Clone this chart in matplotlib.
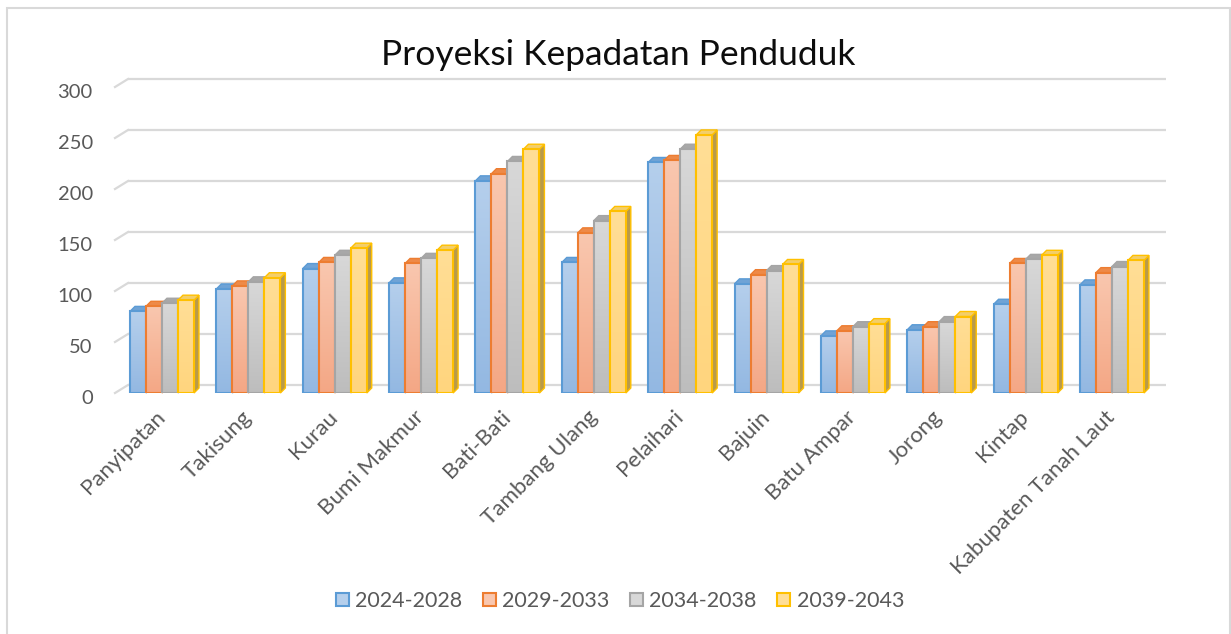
import numpy as np
import matplotlib
matplotlib.use("Agg")
import matplotlib.pyplot as plt
from matplotlib.patches import Polygon, Patch, Rectangle
from matplotlib.colors import LinearSegmentedColormap
from matplotlib.transforms import ScaledTranslation

plt.rcParams['font.family'] = ['Lato', 'DejaVu Sans']

categories = ["Panyipatan", "Takisung", "Kurau", "Bumi Makmur", "Bati-Bati",
              "Tambang Ulang", "Pelaihari", "Bajuin", "Batu Ampar", "Jorong",
              "Kintap", "Kabupaten Tanah Laut"]
series_names = ["2024-2028", "2029-2033", "2034-2038", "2039-2043"]
s2024 = [80, 102, 122, 108, 208, 128, 226, 107, 56, 62, 87, 106]
s2029 = [85, 105, 128, 127, 215, 157, 228, 116, 61, 65, 127, 118]
s2034 = [88, 109, 135, 132, 227, 169, 239, 120, 65, 70, 131, 124]
s2039 = [91, 113, 142, 140, 239, 178, 253, 126, 68, 75, 135, 130]
series = [s2024, s2029, s2034, s2039]
yticks = [0, 50, 100, 150, 200, 250, 300]

edge_cols = ["#5B9BD5", "#ED7D31", "#A5A5A5", "#FFC000"]
grad_top = ["#B5CFEC", "#F9C7AF", "#D8D8D8", "#FFDE96"]
grad_bot = ["#93B8E2", "#F4A785", "#BDBDBD", "#FFD57E"]
side_cols = ["#4A7FB0", "#B8602A", "#8A8A8A", "#B89A4A"]
top_cols = ["#6FA3D6", "#EE8A48", "#A8A8A8", "#F3CE6A"]
text_col = "#595959"
grid_col = "#D9D9D9"

W, H = 1231, 634
fig = plt.figure(figsize=(W / 100, H / 100), dpi=100)
fig.patch.set_facecolor("white")

# front plane of the plot area in pixels
x_left_px, x_right_px = 115, 1153
y_floor_px, px_per_unit = 393, 1.02
ax = fig.add_axes([x_left_px / W, (H - y_floor_px) / H,
                   (x_right_px - x_left_px) / W, 300 * px_per_unit / H])
pitch_px = 86.36
x0_data = -0.5 + (x_left_px - (162 - 0.5 * pitch_px)) / pitch_px
x1_data = x0_data + (x_right_px - x_left_px) / pitch_px
ax.set_xlim(x0_data, x1_data)
ax.set_ylim(0, 300)
for sp in ax.spines.values():
    sp.set_visible(False)
ax.patch.set_alpha(0)

# depth offsets in data units
wall_dx, wall_dy = 13 / pitch_px, 8 / px_per_unit
bar_dx, bar_dy = 5 / pitch_px, 5 / px_per_unit

# back wall gridlines with the slanted side wall segment
for v in yticks:
    ax.plot([x0_data + wall_dx, x1_data + wall_dx], [v + wall_dy, v + wall_dy],
            color=grid_col, lw=1.6, zorder=1, clip_on=False, solid_capstyle="butt")
    ax.plot([x0_data, x0_data + wall_dx], [v, v + wall_dy],
            color=grid_col, lw=1.6, zorder=1, clip_on=False)

bw = 16 / pitch_px
xs = np.arange(len(categories))
grad = np.linspace(1, 0, 128).reshape(-1, 1)
z = 2.0
for si, vals in enumerate(series):
    cmap = LinearSegmentedColormap.from_list(f"g{si}", [grad_bot[si], grad_top[si]])
    offs = (si - 1.5) * bw
    bars = ax.bar(xs + offs, vals, width=bw, facecolor="none",
                  edgecolor=edge_cols[si], linewidth=1.5, zorder=z + si * 0.1 + 0.05)
    for gi, (b, v) in enumerate(zip(bars, vals)):
        bx0 = b.get_x()
        bx1 = bx0 + b.get_width()
        zz = z + si * 0.1
        side = Polygon([(bx1, 0), (bx1, v), (bx1 + bar_dx, v + bar_dy), (bx1 + bar_dx, bar_dy)],
                       closed=True, facecolor=side_cols[si], edgecolor=edge_cols[si],
                       lw=1.0, zorder=zz, clip_on=False)
        top = Polygon([(bx0, v), (bx1, v), (bx1 + bar_dx, v + bar_dy), (bx0 + bar_dx, v + bar_dy)],
                      closed=True, facecolor=top_cols[si], edgecolor=edge_cols[si],
                      lw=1.0, zorder=zz + 0.01, clip_on=False)
        ax.add_patch(side)
        ax.add_patch(top)
        im = ax.imshow(grad, extent=[bx0, bx1, 0, v], aspect="auto", cmap=cmap,
                       vmin=0, vmax=1, zorder=zz + 0.02, interpolation="bilinear")
        im.set_clip_path(b)

ax.set_xlim(x0_data, x1_data)
ax.set_ylim(0, 300)
ax.set_aspect("auto")

ax.set_yticks(yticks)
ax.set_yticklabels([str(t) for t in yticks], fontsize=14.5, color=text_col)
ax.tick_params(axis="y", length=0, pad=16)
shift_down = ScaledTranslation(0, -4 / 100, fig.dpi_scale_trans)
for lbl in ax.get_yticklabels():
    lbl.set_transform(lbl.get_transform() + shift_down)

ax.set_xticks(xs)
ax.set_xticklabels(categories, rotation=45, ha="right", va="center",
                   rotation_mode="anchor", fontsize=16, color=text_col)
ax.tick_params(axis="x", length=0, pad=15)

fig.text(618 / W, (H - 55) / H, "Proyeksi Kepadatan Penduduk", ha="center", va="center",
         fontsize=25.5, color="#0d0d0d")

handles = [Patch(facecolor=grad_top[i], edgecolor=edge_cols[i], linewidth=1.5)
           for i in range(4)]
fig.legend(handles, series_names, loc="center", bbox_to_anchor=(620 / W, (H - 601) / H),
           ncol=4, frameon=False, fontsize=15.5, handlelength=0.6, handleheight=0.6,
           handletextpad=0.3, columnspacing=0.95, labelcolor=text_col)

# chart frame
fig.add_artist(Rectangle((7 / W, -0.05), (1230 - 7) / W, 1.05 - 8 / H,
                         transform=fig.transFigure, fill=False, edgecolor=grid_col, lw=1.5))

fig.savefig("out.png", dpi=100)
